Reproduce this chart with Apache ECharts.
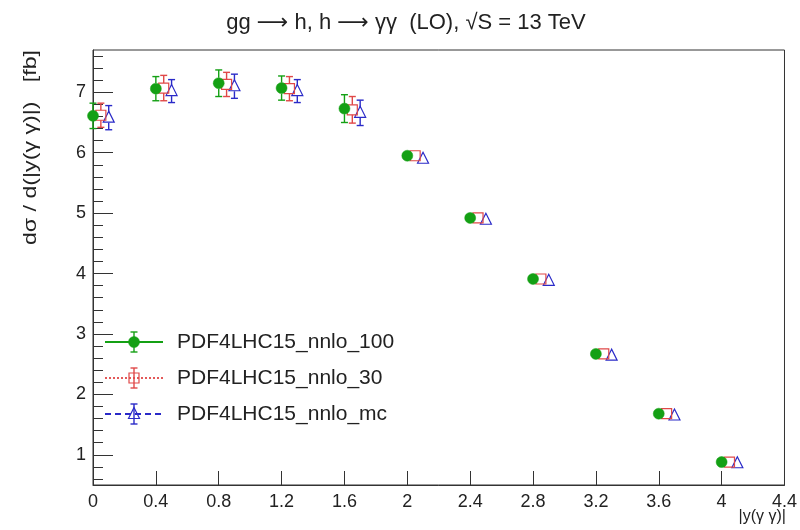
<!DOCTYPE html>
<html>
<head>
<meta charset="utf-8">
<script src="https://cdn.jsdelivr.net/npm/echarts@6/dist/echarts.min.js"></script>
<style>html,body{margin:0;padding:0;background:#fff;}#c{width:800px;height:530px;}</style>
</head>
<body>
<div id="c"></div>
<script>
// ---- data ----
var binCenters = [0, 0.4, 0.8, 1.2, 1.6, 2.0, 2.4, 2.8, 3.2, 3.6, 4.0];
var seriesNames = ['PDF4LHC15_nnlo_100', 'PDF4LHC15_nnlo_30', 'PDF4LHC15_nnlo_mc'];
var xShift = [0, 0.05, 0.1];
var vals100 = [6.61, 7.06, 7.15, 7.07, 6.73, 5.95, 4.92, 3.91, 2.67, 1.68, 0.88];
var err100  = [0.21, 0.20, 0.22, 0.20, 0.23, 0.08, 0.05, 0.03, 0.02, 0.02, 0.01];
var vals30  = [6.62, 7.07, 7.13, 7.06, 6.71, 5.95, 4.92, 3.91, 2.67, 1.68, 0.88];
var err30   = [0.20, 0.21, 0.20, 0.20, 0.22, 0.08, 0.05, 0.03, 0.02, 0.02, 0.01];
var valsMc  = [6.58, 7.02, 7.10, 7.02, 6.66, 5.90, 4.89, 3.88, 2.64, 1.65, 0.86];
var errMc   = [0.20, 0.19, 0.20, 0.19, 0.21, 0.08, 0.05, 0.03, 0.02, 0.02, 0.01];
var yMajorTicks = [1, 2, 3, 4, 5, 6, 7];
var yMinorTicks = [0.6, 0.8, 1.2, 1.4, 1.6, 1.8, 2.2, 2.4, 2.6, 2.8, 3.2, 3.4, 3.6, 3.8,
                   4.2, 4.4, 4.6, 4.8, 5.2, 5.4, 5.6, 5.8, 6.2, 6.4, 6.6, 6.8, 7.2, 7.4, 7.6];
var yTitle = 'd\u03c3 / d(|y(\u03b3 \u03b3)|)   [fb]';
var xTitle = '|y(\u03b3 \u03b3)|';

// ---- styles ----
var FONT = '"Liberation Sans", Arial, sans-serif';
var TXT = '#222';
var colors = ['#14a014', '#e04848', '#2a2ac8'];
var markerKinds = ['circle', 'square', 'triangle'];
var legendDash = [null, [2, 2], [6, 4]];

function buildData(vals, errs, shift) {
  return binCenters.map(function (x, i) { return [x + shift, vals[i], errs[i]]; });
}

function markerShape(kind, cx, cy, color) {
  if (kind === 'circle') {
    return { type: 'circle', shape: { cx: cx, cy: cy, r: 5.5 }, style: { fill: color, stroke: color, lineWidth: 0.5 } };
  } else if (kind === 'square') {
    return { type: 'rect', shape: { x: cx - 5, y: cy - 5, width: 10, height: 10 }, style: { fill: 'none', stroke: color, lineWidth: 1.2 } };
  } else {
    return { type: 'polygon', shape: { points: [[cx, cy - 6.5], [cx - 5.5, cy + 4.5], [cx + 5.5, cy + 4.5]] }, style: { fill: 'none', stroke: color, lineWidth: 1.2 } };
  }
}
function halfH(kind) { return kind === 'circle' ? 5.5 : 5; }

function makeRender(idx) {
  var color = colors[idx], kind = markerKinds[idx];
  return function (params, api) {
    var x = api.value(0), y = api.value(1), e = api.value(2);
    var p = api.coord([x, y]);
    var t = api.coord([x, y + e]);
    var b = api.coord([x, y - e]);
    var hh = halfH(kind);
    var ch = [];
    var ls = { stroke: color, lineWidth: 1.4 };
    if (p[1] - t[1] > hh) {
      ch.push({ type: 'line', shape: { x1: p[0], y1: t[1], x2: p[0], y2: p[1] - hh }, style: ls });
      ch.push({ type: 'line', shape: { x1: p[0] - 3.5, y1: t[1], x2: p[0] + 3.5, y2: t[1] }, style: ls });
    }
    if (b[1] - p[1] > hh) {
      ch.push({ type: 'line', shape: { x1: p[0], y1: p[1] + hh, x2: p[0], y2: b[1] }, style: ls });
      ch.push({ type: 'line', shape: { x1: p[0] - 3.5, y1: b[1], x2: p[0] + 3.5, y2: b[1] }, style: ls });
    }
    ch.push(markerShape(kind, p[0], p[1], color));
    return { type: 'group', children: ch };
  };
}

var allData = [buildData(vals100, err100, xShift[0]), buildData(vals30, err30, xShift[1]), buildData(valsMc, errMc, xShift[2])];

// legend graphics
var legendEls = [];
var legRowY = [342, 378, 414];
seriesNames.forEach(function (name, i) {
  var y0 = legRowY[i], c = colors[i];
  var ls = { stroke: c, lineWidth: 1.8 };
  if (legendDash[i]) ls.lineDash = legendDash[i];
  legendEls.push({ type: 'line', shape: { x1: 105, y1: y0, x2: 163, y2: y0 }, style: ls });
  legendEls.push({ type: 'line', shape: { x1: 134, y1: y0 - 10, x2: 134, y2: y0 + 10 }, style: { stroke: c, lineWidth: 1.4 } });
  legendEls.push({ type: 'line', shape: { x1: 130.5, y1: y0 - 10, x2: 137.5, y2: y0 - 10 }, style: { stroke: c, lineWidth: 1.4 } });
  legendEls.push({ type: 'line', shape: { x1: 130.5, y1: y0 + 10, x2: 137.5, y2: y0 + 10 }, style: { stroke: c, lineWidth: 1.4 } });
  legendEls.push(markerShape(markerKinds[i], 134, y0, c));
  legendEls.push({ type: 'text', x: 177, y: y0, style: { text: name, font: '21px ' + FONT, fill: TXT, textAlign: 'left', textVerticalAlign: 'middle' } });
});

var titleRich = {
  n: { fontSize: 22, fontFamily: FONT, fill: TXT },
  a: { fontSize: 22, fontFamily: '"DejaVu Sans"', fill: TXT }
};
var titleStr = '{n|gg }{a|\u27f6}{n| h, h }{a|\u27f6}{n| \u03b3\u03b3  (LO), \u221aS = 13 TeV}';

var chart = echarts.init(document.getElementById('c'), null, { renderer: 'canvas' });
var option = {
  backgroundColor: '#fff',
  animation: false,
  grid: { left: 93, right: 14, top: 50, bottom: 45, show: true, borderColor: '#333', borderWidth: 1, backgroundColor: 'transparent' },
  xAxis: {
    type: 'value', min: 0, max: 4.4, interval: 0.4,
    axisLine: { show: true, onZero: false, lineStyle: { color: '#333', width: 1 } },
    axisTick: { show: true, inside: true, length: 14, lineStyle: { color: '#333', width: 1 } },
    axisLabel: { show: true, margin: 8, fontSize: 18, fontFamily: FONT, color: TXT, showMinLabel: true, showMaxLabel: true,
      formatter: function (v) { return String(+v.toFixed(1)); } },
    splitLine: { show: false }
  },
  yAxis: [{
    type: 'value', min: 0.5, max: 7.7,
    axisLine: { show: true, onZero: false, lineStyle: { color: '#333', width: 1 } },
    axisTick: { show: true, inside: true, length: 20, customValues: yMajorTicks, lineStyle: { color: '#333', width: 1 } },
    axisLabel: { show: true, margin: 7, fontSize: 18, fontFamily: FONT, color: TXT, customValues: yMajorTicks },
    splitLine: { show: false }
  }, {
    type: 'value', min: 0.5, max: 7.7, position: 'left',
    axisLine: { show: false },
    axisTick: { show: true, inside: true, length: 10, customValues: yMinorTicks, lineStyle: { color: '#333', width: 1 } },
    axisLabel: { show: false },
    splitLine: { show: false }
  }],
  series: allData.map(function (d, i) {
    return { type: 'custom', name: seriesNames[i], data: d, clip: false, renderItem: makeRender(i), z: 10 - i };
  }),
  graphic: [
    { type: 'text', x: 406, y: 23, style: { text: titleStr, rich: titleRich, fontSize: 22, fontFamily: FONT, fill: TXT, textAlign: 'center', textVerticalAlign: 'middle' } },
    { type: 'text', x: 31, y: 50, rotation: Math.PI / 2, scaleX: 1.22, style: { text: yTitle, font: '19px ' + FONT, fill: TXT, textAlign: 'right', textVerticalAlign: 'middle' } },
    { type: 'text', x: 786, y: 517, style: { text: xTitle, font: '16px ' + FONT, fill: TXT, textAlign: 'right', textVerticalAlign: 'middle' } }
  ].concat(legendEls)
};
chart.setOption(option);
</script>
</body>
</html>
